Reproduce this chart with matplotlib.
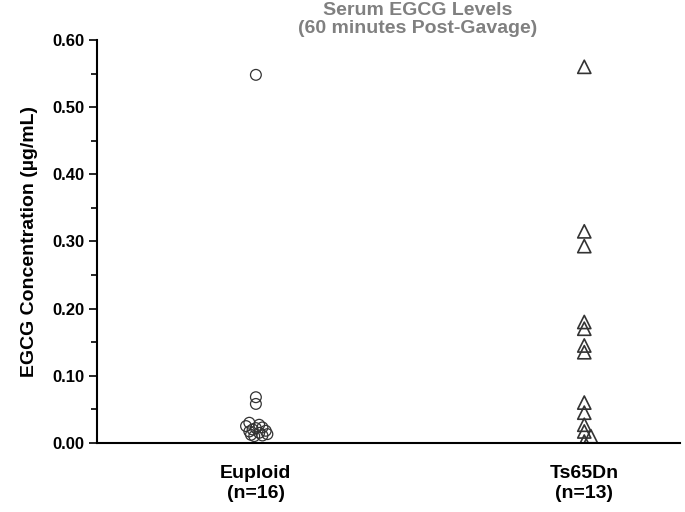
import matplotlib
matplotlib.use("Agg")
import matplotlib.pyplot as plt
from matplotlib.ticker import MultipleLocator

categories = ["Euploid\n(n=16)", "Ts65Dn\n(n=13)"]
euploid = [0.548, 0.068, 0.058, 0.030, 0.027, 0.025, 0.023, 0.022, 0.020, 0.018, 0.017, 0.015, 0.013, 0.012, 0.011, 0.010]
euploid_dx = [0, 0, 0, -0.02, 0.01, -0.03, 0.02, 0.0, -0.01, 0.03, -0.02, 0.01, 0.035, -0.015, 0.02, -0.005]
ts65dn = [0.560, 0.315, 0.293, 0.180, 0.170, 0.145, 0.135, 0.060, 0.045, 0.027, 0.017, 0.010, 0.002]
ts_dx = [0, 0, 0, 0, 0, 0, 0, 0, 0, 0, 0, 0.02, 0]

plt.rcParams['font.family'] = ['Liberation Sans', 'DejaVu Sans']
fig = plt.figure(figsize=(6.85, 5.12), dpi=100)
ax = fig.add_axes([0.142, 0.135, 0.85, 0.787])

ax.scatter([1 + d for d in euploid_dx], euploid, s=60, marker='o', facecolors='none', edgecolors='#333333', linewidths=0.9)
ax.scatter([2 + d for d in ts_dx], ts65dn, s=90, marker='^', facecolors='none', edgecolors='#333333', linewidths=1.2)

ax.set_xlim(0.517, 2.29)
ax.set_ylim(0, 0.6)
ax.yaxis.set_major_locator(MultipleLocator(0.1))
ax.yaxis.set_minor_locator(MultipleLocator(0.05))
ax.set_yticklabels([f"{v:.2f}" for v in ax.get_yticks()])
ax.set_xticks([1, 2])
ax.set_xticklabels(categories, fontsize=14, fontweight='bold', linespacing=1.25)
ax.tick_params(axis='x', length=0, pad=16)
ax.tick_params(axis='y', which='major', length=6, width=1.2, labelsize=12)
ax.tick_params(axis='y', which='minor', length=4, width=1.2)
for l in ax.get_yticklabels():
    l.set_fontweight('bold')
ax.spines['top'].set_visible(False)
ax.spines['right'].set_visible(False)
ax.spines['left'].set_linewidth(1.5)
ax.spines['bottom'].set_linewidth(1.5)
ax.set_ylabel("EGCG Concentration (µg/mL)", fontsize=14, fontweight='bold', labelpad=10)
fig.text(0.61, 0.997, "Serum EGCG Levels\n(60 minutes Post-Gavage)", ha='center', va='top',
         fontsize=14, fontweight='bold', color='#808080', linespacing=1.15)
fig.savefig("out.png", dpi=100)
